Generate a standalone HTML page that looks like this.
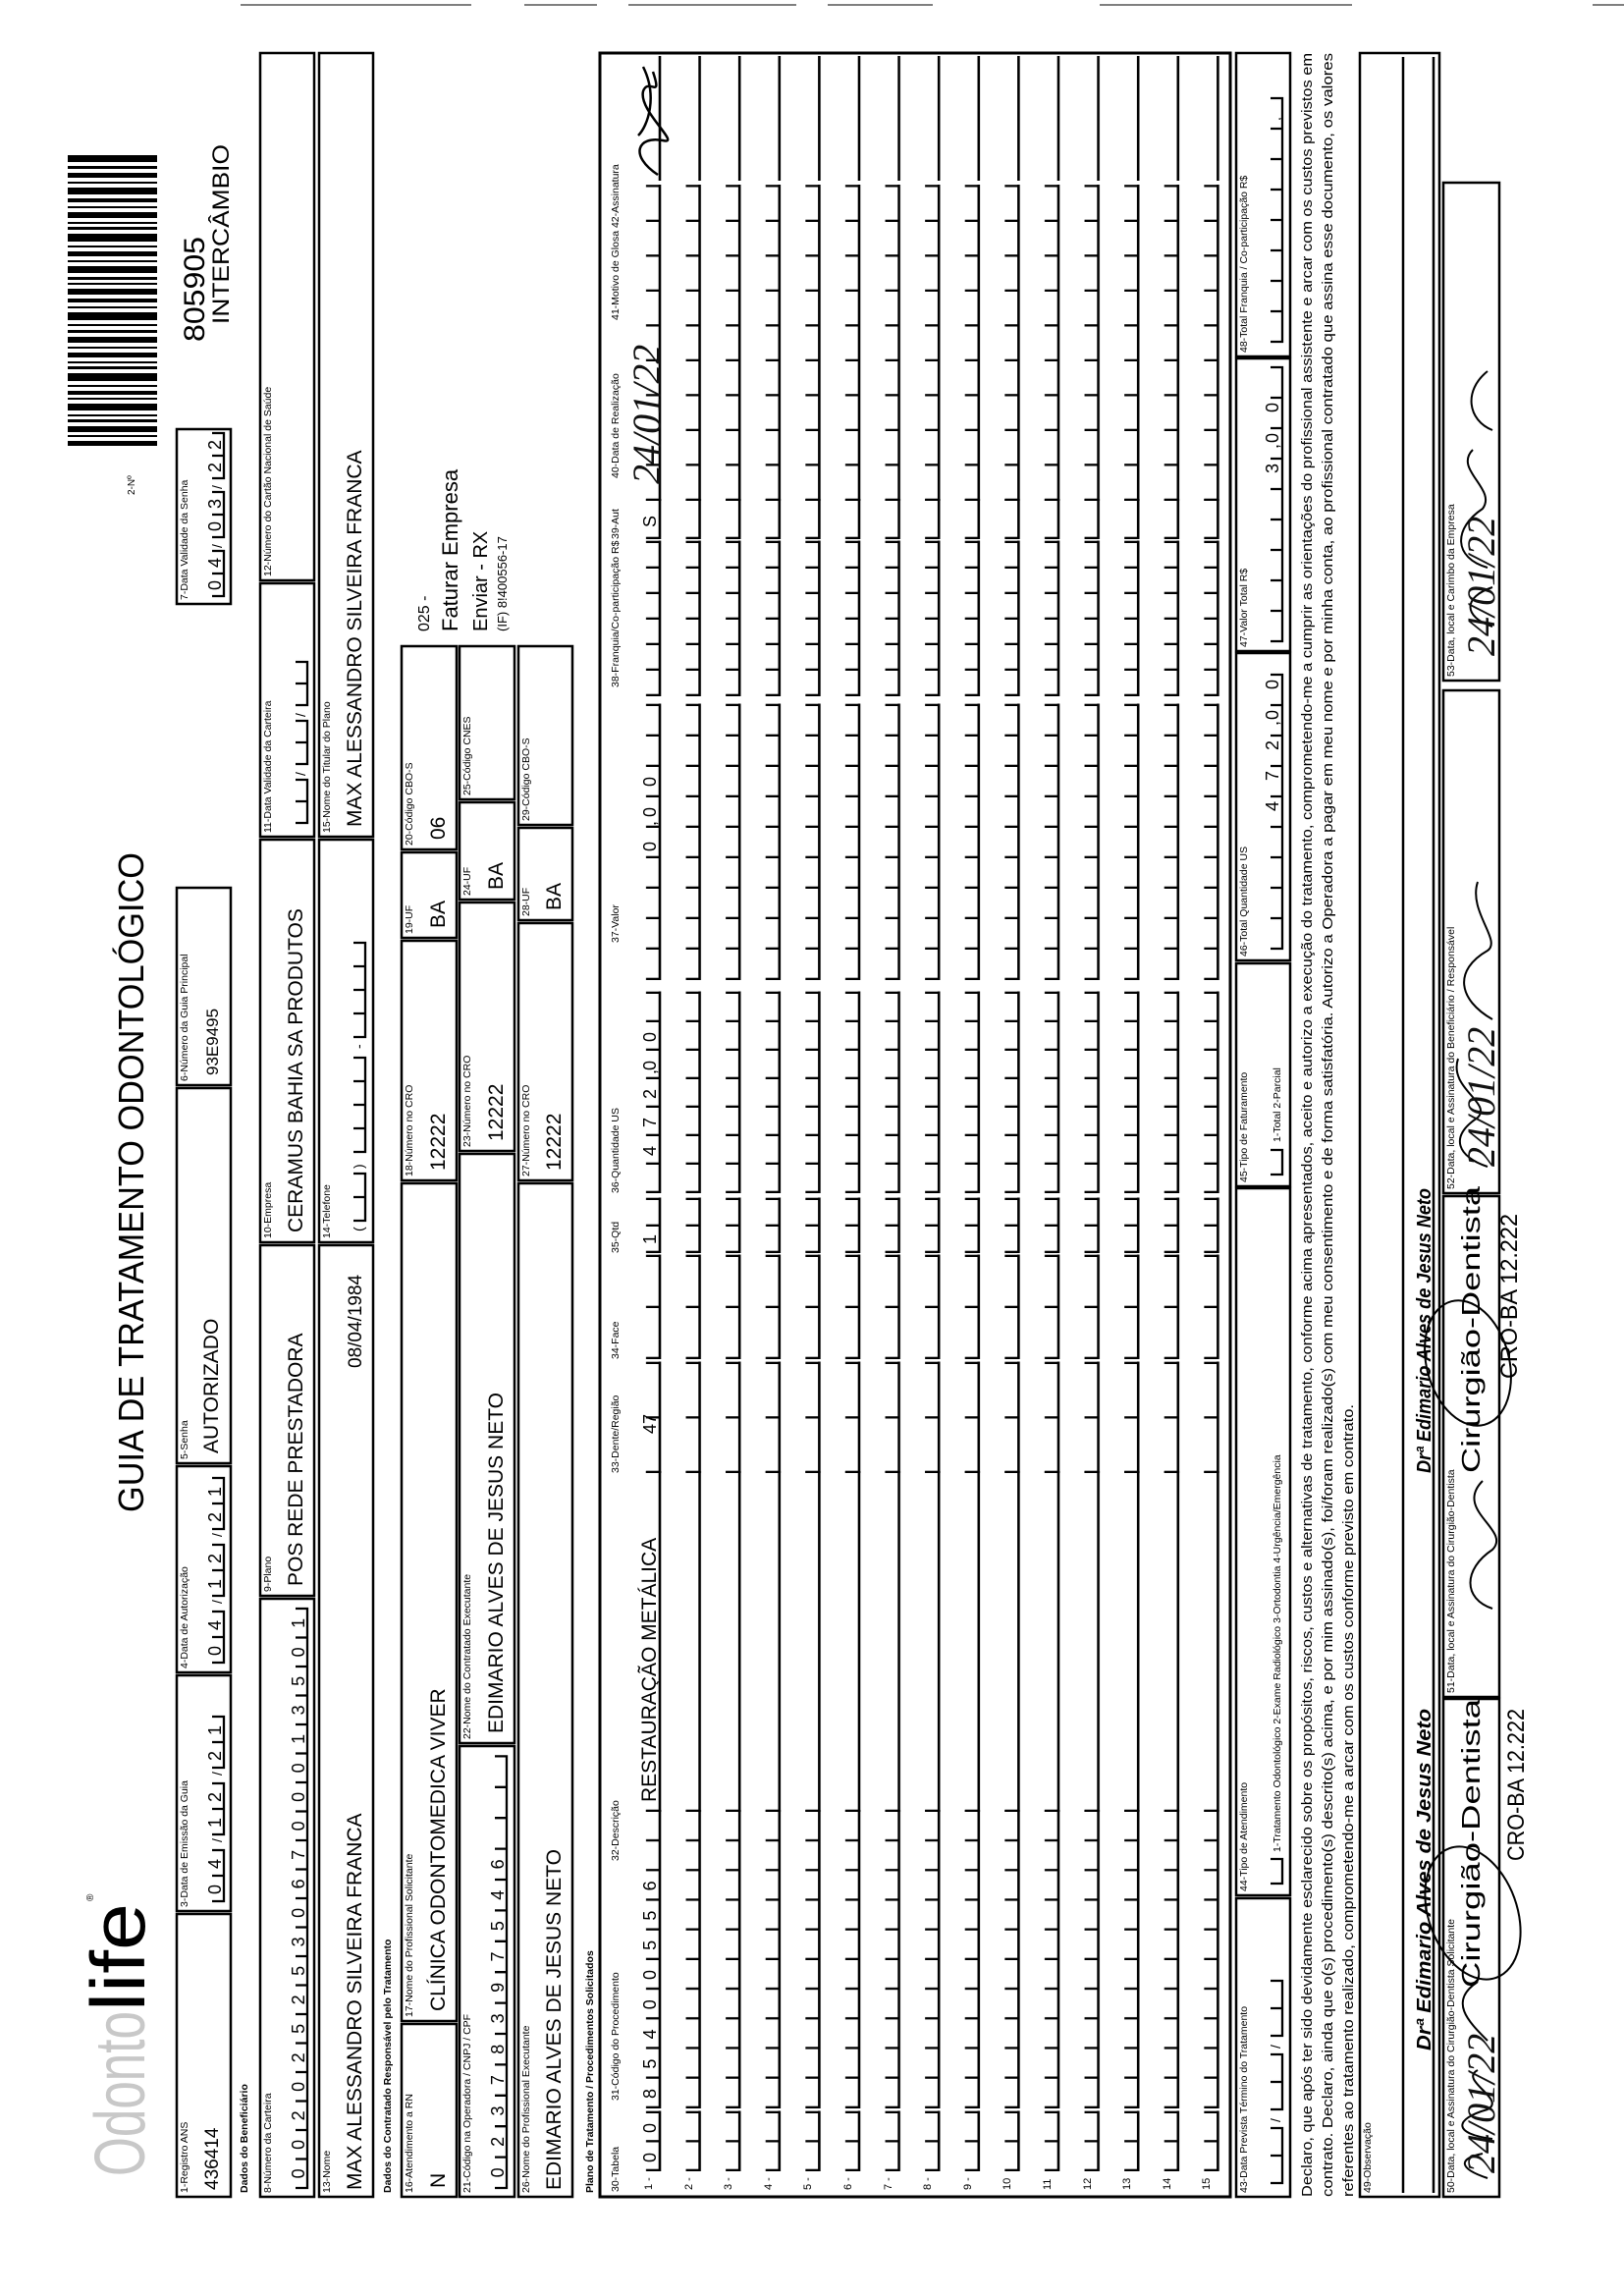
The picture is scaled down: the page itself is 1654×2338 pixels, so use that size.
<!DOCTYPE html>
<html><head><meta charset="utf-8"><style>
html,body{margin:0;padding:0;background:#fff;}
svg{display:block;}
text{font-family:"Liberation Sans",sans-serif;fill:#000;}
.l{font-size:10.5px;}
.v{font-size:21px;}
.d{font-size:18px;}
.h{font-family:"Liberation Serif",serif;font-style:italic;font-size:40px;fill:#111;}
</style></head><body>
<svg width="1654" height="2338" viewBox="0 0 1654 2338" xmlns="http://www.w3.org/2000/svg">
<defs>
<pattern id="pA" x="127" y="640" width="29.5" height="40.6" patternUnits="userSpaceOnUse"><path d="M1,18V32H29.5" stroke="#000" stroke-width="2.6" fill="none"/></pattern>
<pattern id="pB" x="191" y="640" width="30.2" height="40.6" patternUnits="userSpaceOnUse"><path d="M1,18V32H30.2" stroke="#000" stroke-width="2.6" fill="none"/></pattern>
<pattern id="pC" x="493" y="640" width="345" height="40.6" patternUnits="userSpaceOnUse"><path d="M1,18V32H345" stroke="#000" stroke-width="2.6" fill="none"/></pattern>
<pattern id="pD" x="838" y="640" width="55.5" height="40.6" patternUnits="userSpaceOnUse"><path d="M1,18V32H55.5" stroke="#000" stroke-width="2.6" fill="none"/></pattern>
<pattern id="pE" x="954" y="640" width="52" height="40.6" patternUnits="userSpaceOnUse"><path d="M1,18V32H52" stroke="#000" stroke-width="2.6" fill="none"/></pattern>
<pattern id="pF" x="1062" y="640" width="27" height="40.6" patternUnits="userSpaceOnUse"><path d="M1,18V32H27" stroke="#000" stroke-width="2.6" fill="none"/></pattern>
<pattern id="pG" x="1123" y="640" width="29" height="40.6" patternUnits="userSpaceOnUse"><path d="M1,18V32H29" stroke="#000" stroke-width="2.6" fill="none"/></pattern>
<pattern id="pH" x="1340" y="640" width="31" height="40.6" patternUnits="userSpaceOnUse"><path d="M1,18V32H31" stroke="#000" stroke-width="2.6" fill="none"/></pattern>
<pattern id="pI" x="1629" y="640" width="26" height="40.6" patternUnits="userSpaceOnUse"><path d="M1,18V32H26" stroke="#000" stroke-width="2.6" fill="none"/></pattern>
<pattern id="pJ" x="1789" y="640" width="39" height="40.6" patternUnits="userSpaceOnUse"><path d="M1,18V32H39" stroke="#000" stroke-width="2.6" fill="none"/></pattern>
<pattern id="pK" x="1828" y="640" width="35.5" height="40.6" patternUnits="userSpaceOnUse"><path d="M1,18V32H35.5" stroke="#000" stroke-width="2.6" fill="none"/></pattern>
<pattern id="pL" x="2154" y="640" width="127" height="40.6" patternUnits="userSpaceOnUse"><path d="M0,32H127" stroke="#000" stroke-width="2.6" fill="none"/></pattern>
</defs>
<rect width="1654" height="2338" fill="#fff"/>
<g transform="translate(0,2338) rotate(-90)">

<g stroke="#555" stroke-width="1.5">
<line x1="2333" y1="245" x2="2333" y2="480"/><line x1="2333" y1="534" x2="2333" y2="608"/><line x1="2333" y1="640" x2="2333" y2="811"/><line x1="2333" y1="843" x2="2333" y2="950"/><line x1="2333" y1="1120" x2="2333" y2="1377"/><line x1="2333" y1="1622" x2="2333" y2="1707"/>
</g>

<text x="122" y="147" font-size="72" textLength="168" lengthAdjust="spacingAndGlyphs" style="fill:#c8c8c8">Odonto</text>
<text x="290" y="147" font-size="78" textLength="110" lengthAdjust="spacingAndGlyphs">life</text>
<text x="402" y="95" font-size="10">®</text>

<text x="798" y="146" font-size="36" textLength="672" lengthAdjust="spacingAndGlyphs">GUIA DE TRATAMENTO ODONTOLÓGICO</text>

<text x="1834" y="137" font-size="10">2-Nº</text>
<g fill="#000">
<rect x="1884" y="69" width="5" height="91"/><rect x="1893" y="69" width="2" height="91"/><rect x="1898" y="69" width="6" height="91"/><rect x="1908" y="69" width="3" height="91"/><rect x="1914" y="69" width="2" height="91"/><rect x="1920" y="69" width="7" height="91"/><rect x="1931" y="69" width="2" height="91"/><rect x="1936" y="69" width="4" height="91"/><rect x="1944" y="69" width="2" height="91"/><rect x="1950" y="69" width="8" height="91"/><rect x="1962" y="69" width="3" height="91"/><rect x="1968" y="69" width="2" height="91"/><rect x="1974" y="69" width="5" height="91"/><rect x="1983" y="69" width="2" height="91"/><rect x="1989" y="69" width="6" height="91"/><rect x="1999" y="69" width="3" height="91"/><rect x="2006" y="69" width="2" height="91"/><rect x="2012" y="69" width="8" height="91"/><rect x="2024" y="69" width="2" height="91"/><rect x="2030" y="69" width="4" height="91"/><rect x="2038" y="69" width="6" height="91"/><rect x="2048" y="69" width="2" height="91"/><rect x="2053" y="69" width="3" height="91"/><rect x="2060" y="69" width="7" height="91"/><rect x="2071" y="69" width="2" height="91"/><rect x="2077" y="69" width="5" height="91"/><rect x="2086" y="69" width="2" height="91"/><rect x="2092" y="69" width="8" height="91"/><rect x="2104" y="69" width="3" height="91"/><rect x="2110" y="69" width="2" height="91"/><rect x="2116" y="69" width="6" height="91"/><rect x="2126" y="69" width="2" height="91"/><rect x="2132" y="69" width="4" height="91"/><rect x="2140" y="69" width="7" height="91"/><rect x="2151" y="69" width="2" height="91"/><rect x="2157" y="69" width="5" height="91"/><rect x="2166" y="69" width="3" height="91"/><rect x="2173" y="69" width="7" height="91"/>
</g>
<text x="1990" y="208" font-size="30" textLength="107" lengthAdjust="spacingAndGlyphs">805905</text>
<text x="2008" y="233" font-size="24" textLength="183" lengthAdjust="spacingAndGlyphs">INTERCÂMBIO</text>

<g fill="none" stroke="#000" stroke-width="2.5">
<rect x="101" y="180" width="288" height="55"/><rect x="392" y="180" width="240" height="55"/><rect x="635" y="180" width="210" height="55"/><rect x="848" y="180" width="382" height="55"/><rect x="1233" y="180" width="201" height="55"/><rect x="1723" y="180" width="178" height="55"/>
<rect x="101" y="265" width="609" height="55"/><rect x="713" y="265" width="357" height="55"/><rect x="1073" y="265" width="410" height="55"/><rect x="1486" y="265" width="258" height="55"/><rect x="1747" y="265" width="537" height="55"/>
<rect x="101" y="325" width="969" height="55"/><rect x="1073" y="325" width="410" height="55"/><rect x="1486" y="325" width="798" height="55"/>
<rect x="101" y="409" width="176" height="56"/><rect x="280" y="409" width="853" height="56"/><rect x="1136" y="409" width="244" height="56"/><rect x="1383" y="409" width="87" height="56"/><rect x="1473" y="409" width="207" height="56"/>
<rect x="101" y="468" width="459" height="56"/><rect x="563" y="468" width="600" height="56"/><rect x="1166" y="468" width="253" height="56"/><rect x="1422" y="468" width="99" height="56"/><rect x="1524" y="468" width="156" height="56"/>
<rect x="101" y="528" width="1032" height="55"/><rect x="1136" y="528" width="262" height="55"/><rect x="1401" y="528" width="94" height="55"/><rect x="1498" y="528" width="182" height="55"/>
<rect x="101" y="611" width="2183" height="642" stroke-width="3"/>
<rect x="101" y="1259" width="304" height="55"/><rect x="408" y="1259" width="720" height="55"/><rect x="1130" y="1259" width="227" height="55"/><rect x="1360" y="1259" width="313" height="55"/><rect x="1675" y="1259" width="298" height="55"/><rect x="1975" y="1259" width="309" height="55"/>
<rect x="101" y="1385" width="2183" height="81"/>
<rect x="101" y="1470" width="507" height="57"/><rect x="610" y="1470" width="510" height="57"/><rect x="1123" y="1470" width="512" height="57"/><rect x="1645" y="1470" width="507" height="57"/>
</g>
<g stroke="#000" stroke-width="2.5"><line x1="105" y1="1429" x2="2280" y2="1429"/><line x1="105" y1="1460" x2="2280" y2="1460"/></g>

<g class="l">
<text x="105" y="191" class="l">1-Registro ANS</text>
<text x="396" y="191" class="l">3-Data de Emissão da Guia</text>
<text x="639" y="191" class="l">4-Data de Autorização</text>
<text x="852" y="191" class="l">5-Senha</text>
<text x="1237" y="191" class="l">6-Número da Guia Principal</text>
<text x="1727" y="191" class="l">7-Data Validade da Senha</text>
<text x="105" y="252" class="l" font-weight="bold">Dados do Beneficiário</text>
<text x="105" y="276" class="l">8-Número da Carteira</text>
<text x="717" y="276" class="l">9-Plano</text>
<text x="1077" y="276" class="l">10-Empresa</text>
<text x="1490" y="276" class="l">11-Data Validade da Carteira</text>
<text x="1751" y="276" class="l">12-Número do Cartão Nacional de Saúde</text>
<text x="105" y="336" class="l">13-Nome</text>
<text x="1077" y="336" class="l">14-Telefone</text>
<text x="1490" y="336" class="l">15-Nome do Titular do Plano</text>
<text x="105" y="398" class="l" font-weight="bold">Dados do Contratado Responsável pelo Tratamento</text>
<text x="105" y="420" class="l">16-Atendimento a RN</text>
<text x="284" y="420" class="l">17-Nome do Profissional Solicitante</text>
<text x="1140" y="420" class="l">18-Número no CRO</text>
<text x="1387" y="420" class="l">19-UF</text>
<text x="1477" y="420" class="l">20-Código CBO-S</text>
<text x="105" y="479" class="l">21-Código na Operadora / CNPJ / CPF</text>
<text x="567" y="479" class="l">22-Nome do Contratado Executante</text>
<text x="1170" y="479" class="l">23-Número no CRO</text>
<text x="1426" y="479" class="l">24-UF</text>
<text x="1528" y="479" class="l">25-Código CNES</text>
<text x="105" y="539" class="l">26-Nome do Profissional Executante</text>
<text x="1140" y="539" class="l">27-Número no CRO</text>
<text x="1405" y="539" class="l">28-UF</text>
<text x="1502" y="539" class="l">29-Código CBO-S</text>
<text x="105" y="604" class="l" font-weight="bold">Plano de Tratamento / Procedimentos Solicitados</text>
<text x="106" y="630" class="l">30-Tabela</text>
<text x="199" y="630" class="l">31-Código do Procedimento</text>
<text x="443" y="630" class="l">32-Descrição</text>
<text x="838" y="630" class="l">33-Dente/Região</text>
<text x="954" y="630" class="l">34-Face</text>
<text x="1062" y="630" class="l">35-Qtd</text>
<text x="1123" y="630" class="l">36-Quantidade US</text>
<text x="1378" y="630" class="l">37-Valor</text>
<text x="1638" y="630" class="l">38-Franquia/Co-participação R$</text>
<text x="1789" y="630" class="l">39-Aut</text>
<text x="1851" y="630" class="l">40-Data de Realização</text>
<text x="2012" y="630" class="l">41-Motivo de Glosa  42-Assinatura</text>
<text x="105" y="1270" class="l">43-Data Prevista Término do Tratamento</text>
<text x="412" y="1270" class="l">44-Tipo de Atendimento</text>
<text x="1134" y="1270" class="l">45-Tipo de Faturamento</text>
<text x="1364" y="1270" class="l">46-Total Quantidade US</text>
<text x="1679" y="1270" class="l">47-Valor Total R$</text>
<text x="1979" y="1270" class="l">48-Total Franquia / Co-participação R$</text>
<text x="452" y="1304" class="l">1-Tratamento Odontológico  2-Exame Radiológico  3-Ortodontia  4-Urgência/Emergência</text>
<text x="1175" y="1304" class="l">1-Total  2-Parcial</text>
<text x="105" y="1396" class="l">49-Observação</text>
<text x="105" y="1481" class="l">50-Data, local e Assinatura do Cirurgião-Dentista Solicitante</text>
<text x="614" y="1481" class="l">51-Data, local e Assinatura do Cirurgião-Dentista</text>
<text x="1127" y="1481" class="l">52-Data, local e Assinatura do Beneficiário / Responsável</text>
<text x="1649" y="1481" class="l">53-Data, local e Carimbo da Empresa</text>
</g>

<g font-size="11">
<text x="108" y="664">1 -</text><text x="108" y="705">2 -</text><text x="108" y="745">3 -</text><text x="108" y="786">4 -</text><text x="108" y="826">5 -</text><text x="108" y="867">6 -</text><text x="108" y="908">7 -</text><text x="108" y="948">8 -</text><text x="108" y="989">9 -</text><text x="108" y="1029">10</text><text x="108" y="1070">11</text><text x="108" y="1111">12</text><text x="108" y="1151">13</text><text x="108" y="1192">14</text><text x="108" y="1232">15</text>
</g>

<rect x="127" y="640" width="61.5" height="609" fill="url(#pA)"/>
<rect x="191" y="640" width="304" height="609" fill="url(#pB)"/>
<rect x="493" y="640" width="347" height="609" fill="url(#pC)"/>
<rect x="838" y="640" width="113.5" height="609" fill="url(#pD)"/>
<rect x="954" y="640" width="106.5" height="609" fill="url(#pE)"/>
<rect x="1062" y="640" width="56.5" height="609" fill="url(#pF)"/>
<rect x="1123" y="640" width="205.5" height="609" fill="url(#pG)"/>
<rect x="1340" y="640" width="281.5" height="609" fill="url(#pH)"/>
<rect x="1629" y="640" width="158.5" height="609" fill="url(#pI)"/>
<rect x="1789" y="640" width="41" height="609" fill="url(#pJ)"/>
<rect x="1828" y="640" width="322" height="609" fill="url(#pK)"/>
<rect x="2154" y="640" width="127" height="609" fill="url(#pL)"/>

<g fill="none" stroke="#000" stroke-width="2.3">
<path d="M402,228v-12v12h26v-12v12h26v-12M470,228v-12v12h26v-12v12h26v-12M538,228v-12v12h26v-12v12h26v-12"/>
<path d="M645,228v-12v12h26v-12v12h26v-12M713,228v-12v12h26v-12v12h26v-12M781,228v-12v12h26v-12v12h26v-12"/>
<path d="M1731,228v-12v12h23v-12v12h23v-12M1791,228v-12v12h23v-12v12h23v-12M1851,228v-12v12h23v-12v12h23v-12"/>
<path d="M110,313v-12v12h29.5v-12v12h29.5v-12v12h29.5v-12v12h29.5v-12v12h29.5v-12v12h29.5v-12v12h29.5v-12v12h29.5v-12v12h29.5v-12v12h29.5v-12v12h29.5v-12v12h29.5v-12v12h29.5v-12v12h29.5v-12v12h29.5v-12v12h29.5v-12v12h29.5v-12v12h29.5v-12v12h29.5v-12v12h29.5v-12"/>
<path d="M1500,313v-12v12h22v-12v12h22v-12M1560,313v-12v12h22v-12v12h22v-12M1620,313v-12v12h22v-12v12h22v-12"/>
<path d="M1095,372v-12v12h24v-12v12h24v-12M1165,372v-12v12h24v-12v12h24v-12v12h24v-12v12h24v-12M1282,372v-12v12h24v-12v12h24v-12v12h24v-12v12h24v-12"/>
<path d="M110,516v-12v12h31.4v-12v12h31.4v-12v12h31.4v-12v12h31.4v-12v12h31.4v-12v12h31.4v-12v12h31.4v-12v12h31.4v-12v12h31.4v-12v12h31.4v-12v12h31.4v-12v12h31.4v-12v12h31.4v-12v12h31.4v-12"/>
<path d="M115,1306v-12v12h28v-12v12h28v-12M190,1306v-12v12h28v-12v12h28v-12M265,1306v-12v12h28v-12v12h28v-12"/>
<path d="M420,1306v-12v12h25v-12"/>
<path d="M1142,1306v-12v12h25v-12"/>
<path d="M1372,1306v-12v12h31v-12v12h31v-12v12h31v-12v12h31v-12v12h31v-12v12h31v-12v12h31v-12v12h31v-12v12h31v-12"/>
<path d="M1685,1306v-12v12h31v-12v12h31v-12v12h31v-12v12h31v-12v12h31v-12v12h31v-12v12h31v-12v12h31v-12v12h31v-12"/>
<path d="M1990,1306v-12v12h31v-12v12h31v-12v12h31v-12v12h31v-12v12h31v-12v12h31v-12v12h31v-12v12h31v-12"/>
</g>
<g font-size="14"><text x="462" y="226">/</text><text x="530" y="226">/</text><text x="705" y="226">/</text><text x="773" y="226">/</text><text x="1780" y="226">/</text><text x="1840" y="226">/</text><text x="1548" y="311">/</text><text x="1608" y="311">/</text><text x="1084" y="370">(</text><text x="1148" y="370">)</text><text x="1270" y="370">-</text><text x="177" y="1304">/</text><text x="252" y="1304">/</text></g>

<text x="108" y="222" font-size="19">436414</text>
<text class="d" x="409 435 477 503 545 571" y="225">041221</text>
<text class="d" x="652 678 720 746 788 814" y="225">041221</text>
<text class="v" x="858" y="222">AUTORIZADO</text>
<text x="1243" y="222" font-size="17">93E9495</text>
<text class="d" x="1737 1760 1797 1820 1857 1880" y="225">040322</text>
<text class="d" x="119.7 149.2 178.7 208.2 237.7 267.2 296.7 326.2 355.7 385.2 414.7 444.2 473.7 503.2 532.7 562.2 591.7 621.2 650.7 680.2" y="310">00202525306700013501</text>
<text class="v" x="723" y="308">POS REDE PRESTADORA</text>
<text class="v" x="1083" y="308">CERAMUS BAHIA SA PRODUTOS</text>
<text class="v" x="108" y="368">MAX ALESSANDRO SILVEIRA FRANCA</text>
<text x="945" y="368" font-size="19">08/04/1984</text>
<text class="v" x="1496" y="368">MAX ALESSANDRO SILVEIRA FRANCA</text>
<text class="v" x="110" y="453">N</text>
<text class="v" x="290" y="453">CLÍNICA ODONTOMEDICA VIVER</text>
<text class="v" x="1146" y="453">12222</text>
<text class="v" x="1393" y="453">BA</text>
<text class="v" x="1483" y="453">06</text>
<text class="d" x="120.7 152.1 183.5 214.9 246.3 277.7 309.1 340.5 371.9 403.3 434.7" y="513">02378397546</text>
<text class="v" x="573" y="512">EDIMARIO ALVES DE JESUS NETO</text>
<text class="v" x="1176" y="512">12222</text>
<text class="v" x="1432" y="512">BA</text>
<text class="v" x="108" y="571">EDIMARIO ALVES DE JESUS NETO</text>
<text class="v" x="1146" y="571">12222</text>
<text class="v" x="1411" y="571">BA</text>
<text x="1695" y="437" font-size="16">025 -</text>
<text x="1695" y="466" font-size="22">Faturar Empresa</text>
<text x="1695" y="496" font-size="20">Enviar - RX</text>
<text x="1695" y="516" font-size="13">(IF) 8!400556-17</text>

<text class="d" x="136 166" y="668">00</text>
<text class="d" x="201 231.4 261.6 291.8 322 352.2 382.4 412.6" y="668">85400556</text>
<text x="503" y="668" font-size="21">RESTAURAÇÃO METÁLICA</text>
<text class="d" x="878" y="668">47</text>
<text class="d" x="1071" y="668">1</text>
<text class="d" x="1161 1190 1219 1244 1248 1277" y="668">472,00</text>
<text class="d" x="1471 1497 1506 1537" y="668">0,00</text>
<text class="d" x="1801" y="668">S</text>
<text class="h" x="1845" y="672" font-size="34">24/01/22</text>
<path d="M2160,670c20,-30 40,-20 35,5c-5,20 30,-25 50,-20c15,5 -10,20 20,10M2200,650c10,10 40,20 70,5" fill="none" stroke="#000" stroke-width="2.5"/>

<text class="d" x="1512 1543 1574 1599 1605 1636" y="1302">472,00</text>
<text class="d" x="1856 1881 1887 1918" y="1302">3,00</text>
<text x="2215" y="1304" font-size="14">,</text>

<text x="101" y="1336" font-size="15" textLength="2183" lengthAdjust="spacingAndGlyphs">Declaro, que após ter sido devidamente esclarecido sobre os propósitos, riscos, custos e alternativas de tratamento, conforme acima apresentados, aceito e autorizo a execução do tratamento, comprometendo-me a cumprir as orientações do profissional assistente e arcar com os custos previstos em</text>
<text x="101" y="1357" font-size="15" textLength="2183" lengthAdjust="spacingAndGlyphs">contrato. Declaro, ainda que o(s) procedimento(s) descrito(s) acima, e por mim assinado(s), foi/foram realizado(s) com meu consentimento e de forma satisfatória. Autorizo a Operadora a pagar em meu nome e por minha conta, ao profissional contratado que assina esse documento, os valores</text>
<text x="101" y="1378" font-size="15" textLength="807" lengthAdjust="spacingAndGlyphs">referentes ao tratamento realizado, comprometendo-me a arcar com os custos conforme previsto em contrato.</text>

<text x="250" y="1457" font-size="20" font-style="italic" font-weight="bold" textLength="348" lengthAdjust="spacingAndGlyphs">Drª Edimario Alves de Jesus Neto</text>
<line x1="250" y1="1460" x2="598" y2="1460" stroke="#000" stroke-width="2"/>
<text x="314" y="1507" font-size="26" textLength="294" lengthAdjust="spacingAndGlyphs">Cirurgião-Dentista</text>
<text x="443" y="1552" font-size="24" textLength="155" lengthAdjust="spacingAndGlyphs">CRO-BA 12.222</text>
<text x="838" y="1457" font-size="20" font-style="italic" font-weight="bold" textLength="290" lengthAdjust="spacingAndGlyphs">Drª Edimario Alves de Jesus Neto</text>
<line x1="838" y1="1460" x2="1128" y2="1460" stroke="#000" stroke-width="2"/>
<text x="838" y="1507" font-size="26" textLength="292" lengthAdjust="spacingAndGlyphs">Cirurgião-Dentista</text>
<text x="934" y="1545" font-size="24" textLength="168" lengthAdjust="spacingAndGlyphs">CRO-BA 12.222</text>
<g fill="none" stroke="#000" stroke-width="2">
<ellipse cx="390" cy="1500" rx="70" ry="45" transform="rotate(-20 390 1500)"/>
<ellipse cx="950" cy="1495" rx="65" ry="42" transform="rotate(-15 950 1495)"/>
<path d="M120,1515c10,-30 20,-30 25,-5M160,1520c5,-40 20,-40 30,-5c10,20 30,-30 40,-10M260,1515c20,-20 40,-40 60,-10M700,1520c10,-30 40,-30 60,0c20,20 40,-40 70,-10M1150,1515c10,-30 30,-40 50,-10c15,15 30,-30 60,-20M1300,1520c20,-35 50,-40 70,-5c10,15 40,-20 70,-10M1700,1520c10,-30 30,-30 40,0M1760,1515c10,-35 40,-35 60,-5c20,15 40,-30 60,-10M1900,1520c10,-25 40,-30 60,-5"/>
</g>
<text class="h" x="125" y="1522">24/01/22</text>
<text class="h" x="1150" y="1522">24/01/22</text>
<text class="h" x="1670" y="1522">24/01/22</text>
</g>
</svg>
</body></html>
